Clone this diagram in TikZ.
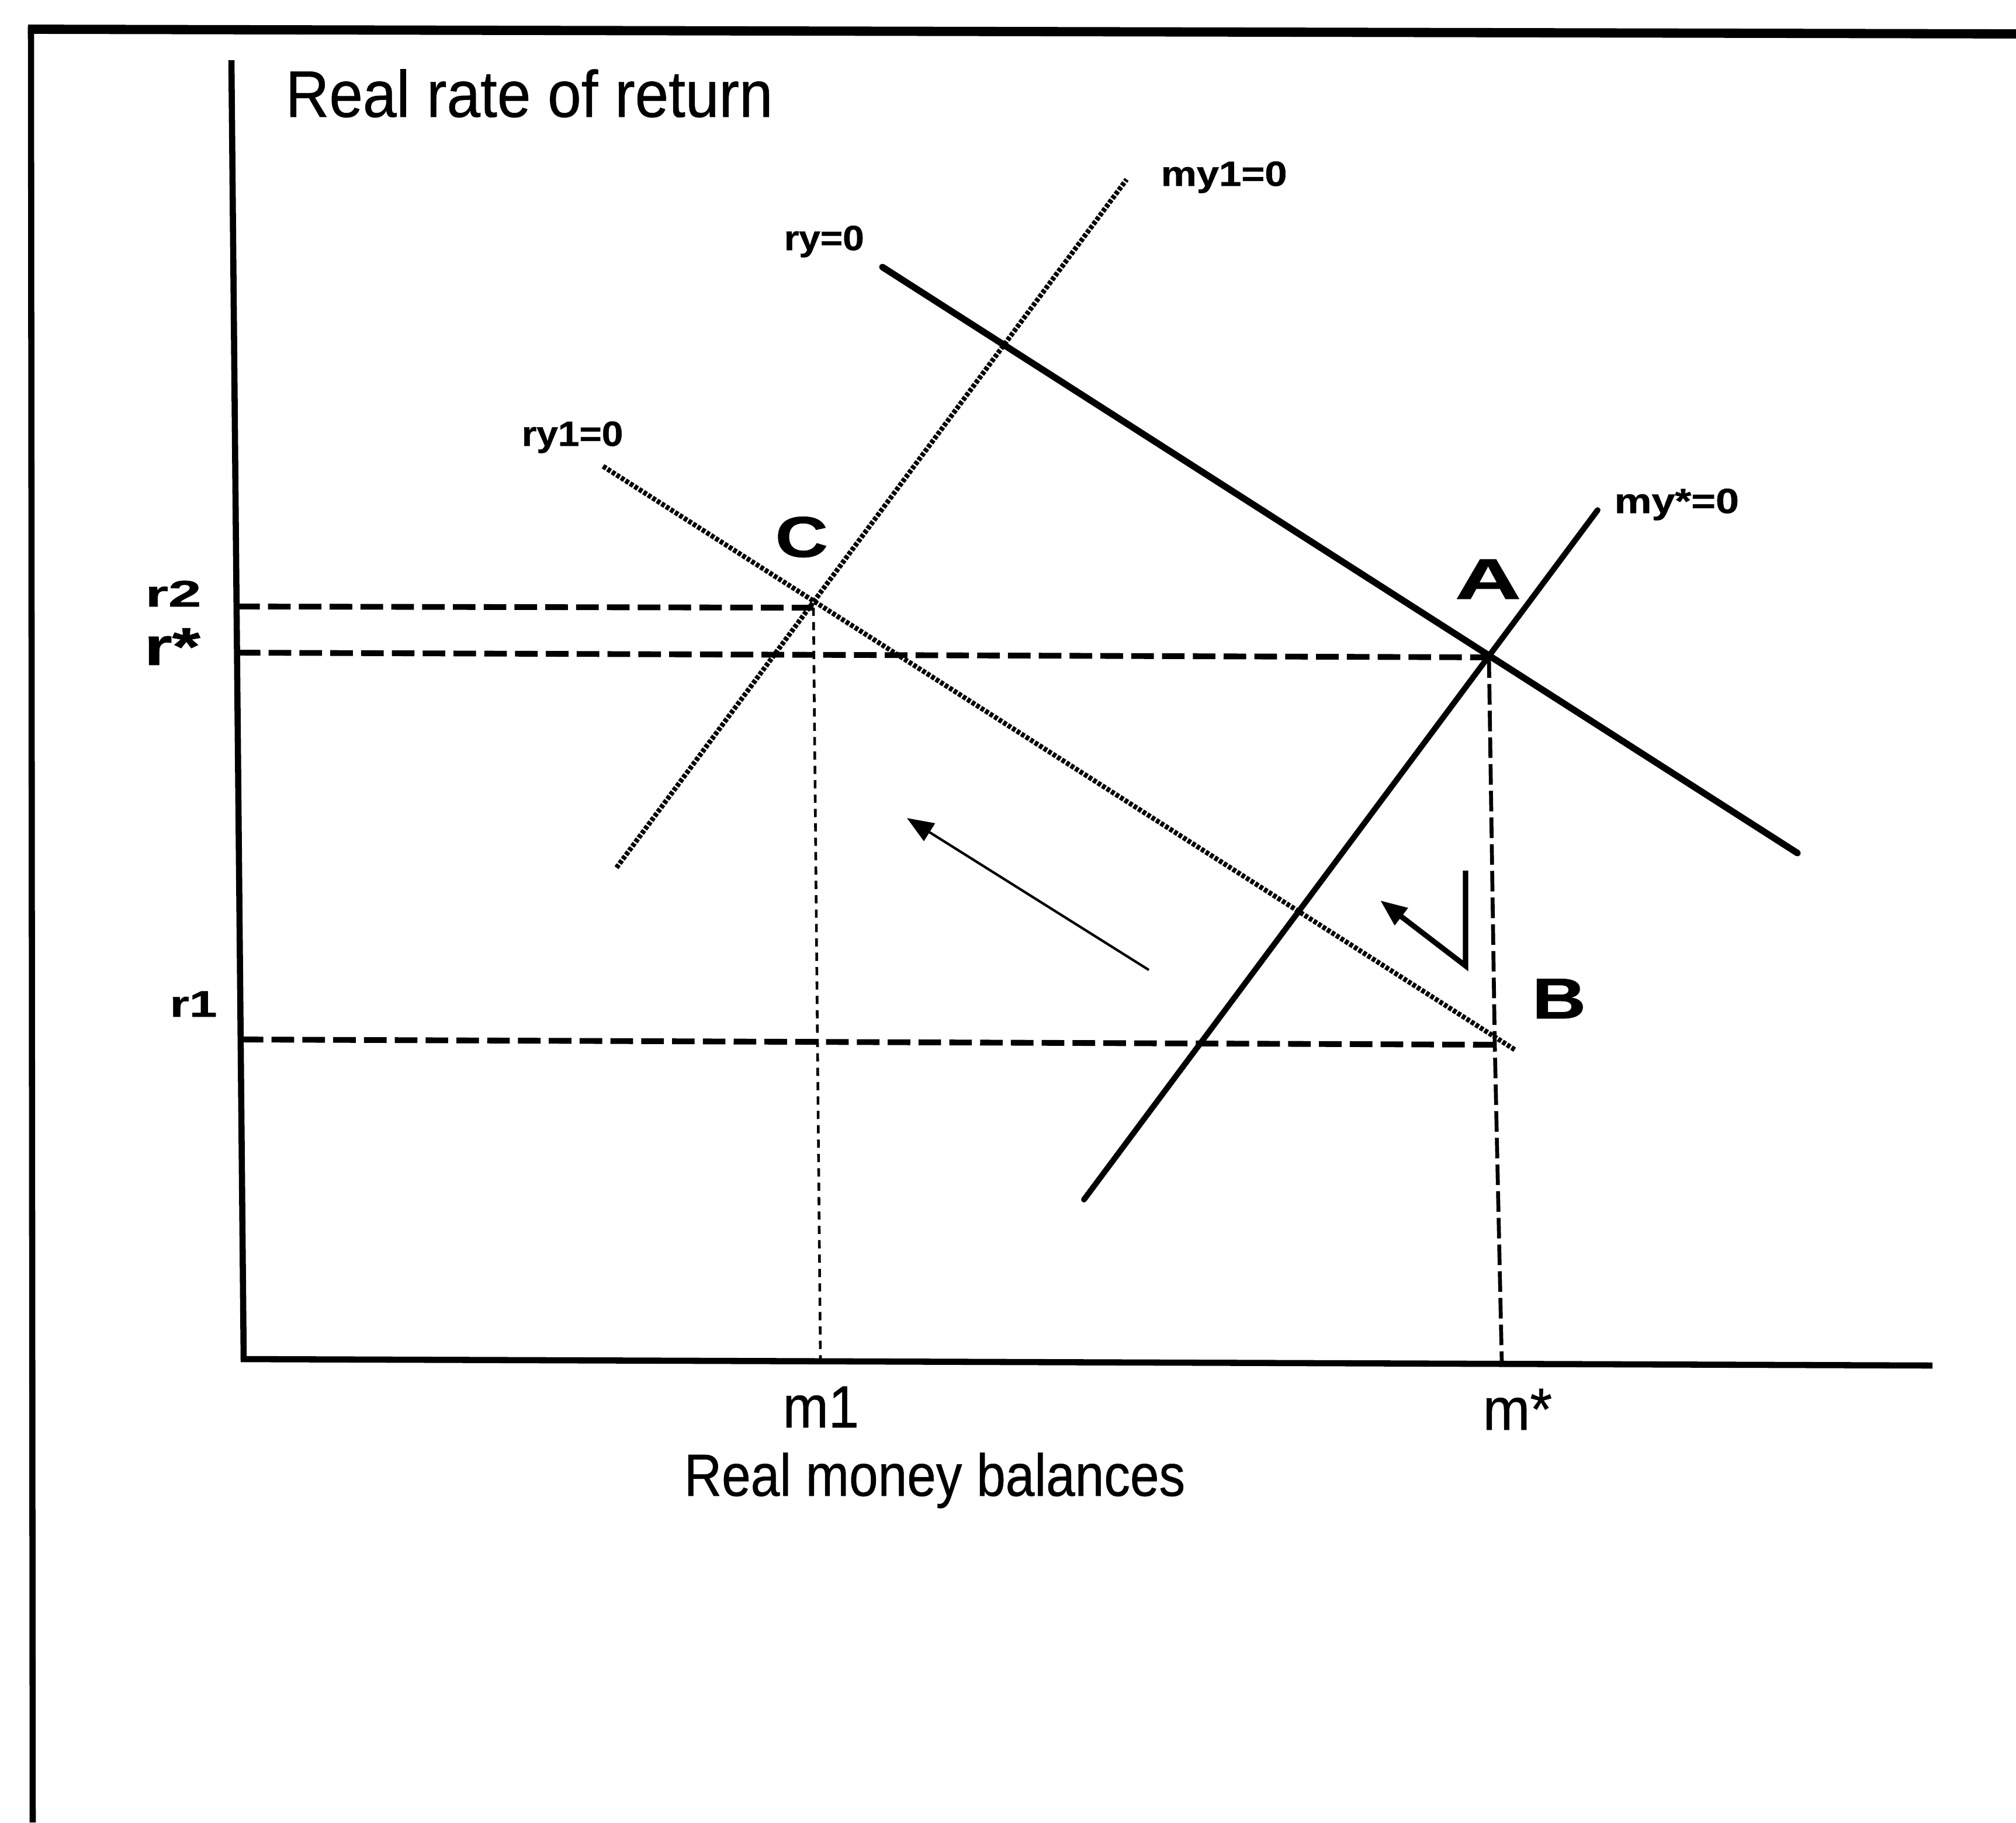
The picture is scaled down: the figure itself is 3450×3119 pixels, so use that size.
\documentclass[tikz,border=0pt]{standalone}
\usepackage{fontspec}
\usepackage{graphicx}
\setmainfont{Liberation Sans}[FakeBold=0.6]
\newfontfamily\heavyfont{Liberation Sans Bold}[FakeBold=0.8]
\usetikzlibrary{arrows.meta}
\newcommand{\xsc}[2]{\scalebox{#1}[1]{#2}}
\begin{document}
\begin{tikzpicture}[x=0.1mm,y=-0.1mm,
  frameline/.style={line width=4.5pt},
  axisline/.style={line width=3pt},
  solidcurve/.style={line width=3.2pt, line cap=round},
  dotcurve/.style={line width=2.4pt, dash pattern=on 1.8pt off 0.8pt},
  hdash/.style={line width=2.8pt, dash pattern=on 11pt off 4pt},
  vdash/.style={line width=1.9pt, dash pattern=on 10pt off 3pt},
  vdashthin/.style={line width=1.3pt, dash pattern=on 4pt off 3pt},
  lab/.style={inner sep=0pt, anchor=base west, font=\heavyfont\fontsize{17}{17}\selectfont},
  bigl/.style={inner sep=0pt, anchor=base west, font=\heavyfont\fontsize{28}{28}\selectfont},
  txt/.style={inner sep=0pt, anchor=base west},
  tip/.style={-{Triangle[length=13pt,width=10pt]}},
]
\useasboundingbox (0,0) rectangle (3450,3119);
% frame
\coordinate (fTL) at (48,50);
\coordinate (fTR) at (3450,58);
\coordinate (fL) at (53,45);
\coordinate (fB) at (56,3119);
\draw[frameline] (fTL) -- (fTR);
\draw[line width=3pt] (fL) -- (fB);
% axes
\coordinate (yTop) at (396,103);
\coordinate (O) at (417,2326);
\coordinate (xEnd) at (3307,2337);
\draw[axisline] (yTop) -- (O) -- (xEnd);
% key points
\coordinate (A) at (2548,1125);
\coordinate (B) at (2558,1788);
\coordinate (C) at (1392,1040);
\coordinate (r2L) at (406,1038);
\coordinate (rsL) at (407,1117);
\coordinate (r1L) at (412,1779);
\coordinate (m1B) at (1404,2326);
\coordinate (msB) at (2570,2331);
% dashed guides
\draw[hdash] (r2L) -- (C);
\draw[hdash] (rsL) -- (A);
\draw[hdash] (r1L) -- (B);
\draw[vdashthin] (C) -- (m1B);
\draw[vdash] (A) -- (B) -- (msB);
% curves
\coordinate (ry0a) at (1510,457);
\coordinate (ry0b) at (3076,1460);
\coordinate (mysa) at (1855,2053);
\coordinate (mysb) at (2734,873);
\coordinate (my1a) at (1055,1485);
\coordinate (my1b) at (1928,307);
\coordinate (ry1a) at (1032,798);
\coordinate (ry1b) at (2593,1797);
\draw[solidcurve] (ry0a) -- (ry0b);
\draw[solidcurve, line width=2.8pt] (mysa) -- (mysb);
\draw[dotcurve] (my1a) -- (my1b);
\draw[dotcurve] (ry1a) -- (ry1b);
% arrows
\coordinate (t1s) at (1966,1660);
\coordinate (t1e) at (1552,1400);
\draw[tip, line width=1.2pt] (t1s) -- (t1e);
\coordinate (t2s) at (2508,1490);
\coordinate (t2m) at (2508,1653);
\coordinate (t2e) at (2362,1541);
\draw[tip, line width=2.6pt, line join=miter] (t2s) -- (t2m) -- (t2e);
% labels
\node[txt, font=\fontsize{32}{32}\selectfont] (ylab) at (488,200) {\xsc{0.92}{Real rate of return}};
\node[txt, font=\fontsize{29}{29}\selectfont] (xlab) at (1170,2560) {\xsc{0.875}{Real money balances}};
\node[txt, font=\fontsize{29}{29}\selectfont] (m1lab) at (1339,2443) {\xsc{0.92}{m1}};
\node[txt, font=\fontsize{29}{29}\selectfont] (mslab) at (2537,2447) {\xsc{0.95}{m*}};
\node[lab] (my1lab) at (1986,318) {\xsc{1.15}{my1=0}};
\node[lab] (ry0lab) at (1341,428) {\xsc{1.1}{ry=0}};
\node[lab] (myslab) at (2762,878) {\xsc{1.2}{my*=0}};
\node[lab] (ry1lab) at (892,763) {\xsc{1.1}{ry1=0}};
\node[bigl] (Clab) at (1326,953) {\xsc{1.27}{C}};
\node[bigl] (Alab) at (2489,1025) {\xsc{1.6}{A}};
\node[bigl] (Blab) at (2621,1743) {\xsc{1.3}{B}};
\node[txt, font=\heavyfont\fontsize{18}{18}\selectfont] (r2lab) at (248,1038) {\xsc{1.6}{r2}};
\node[txt, font=\heavyfont\fontsize{26}{26}\selectfont] (rslab) at (246,1138) {\xsc{1.35}{r*}};
\node[txt, font=\heavyfont\fontsize{18}{18}\selectfont] (r1lab) at (290,1740) {\xsc{1.35}{r1}};
\end{tikzpicture}
\end{document}
